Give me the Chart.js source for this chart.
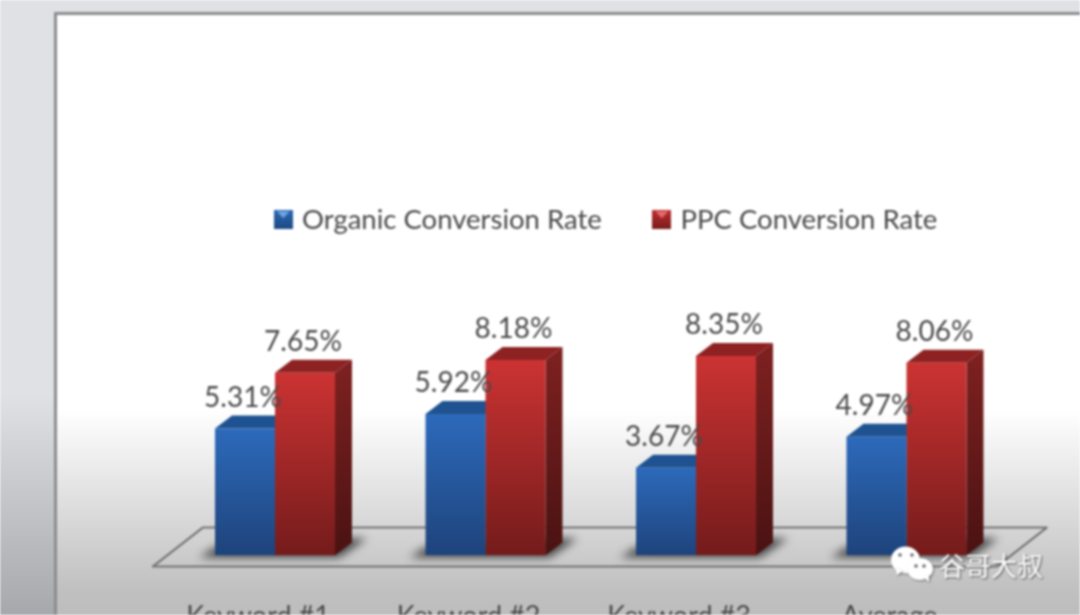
<!DOCTYPE html>
<html>
<head>
<meta charset="utf-8">
<style>
html, body { margin: 0; height: 100%; overflow: hidden; }
#wrap { position: absolute; left: 0; top: 0; width: 1080px; height: 615px; overflow: hidden;
  background: linear-gradient(#e0e1e5 0, #e0e1e5 395px, #a6a8ab 615px); filter: blur(0.8px); }
#panel { position: absolute; left: 54px; top: 12px; width: 1060px; height: 640px; border: 3px solid #8c8c8e;
  background: linear-gradient(#fff 0, #fff 395px, #c0c0c0 575px, #bdbdbd 603px); }
canvas { position: absolute; left: 0; top: 0; }
</style>
</head>
<body>
<div id="wrap">
  <div id="panel"></div>
  <canvas id="myChart" width="1080" height="684" style="width:1080px;height:684px"></canvas>
</div>
<script src="https://cdn.jsdelivr.net/npm/chart.js@4"></script>
<script>
const categories = ['Keyword #1', 'Keyword #2', 'Keyword #3', 'Average'];
const organicRates = [5.31, 5.92, 3.67, 4.97];
const ppcRates = [7.65, 8.18, 8.35, 8.06];
const seriesNames = ['Organic Conversion Rate', 'PPC Conversion Rate'];
const watermark = '谷哥大叔';

const textFont = 'Lato';
const textColor = '#4a4a4a';
const depthX = 17;
const depthY = 13;

// front face gradient, runs over the height of each bar
function barFill(top, bottom) {
    return function (c) {
        const y = c.chart.scales.y;
        if (c.raw === undefined || !y) return bottom;
        const y0 = y.getPixelForValue(c.raw);
        const y1 = y.getPixelForValue(0);
        // scale has no size yet on the first pass
        if (!isFinite(y0) || !isFinite(y1)) return bottom;
        const g = c.chart.ctx.createLinearGradient(0, y0, 0, y1);
        g.addColorStop(0, top);
        g.addColorStop(1, bottom);
        return g;
    };
}

function legendIcon(light, dark, tip) {
    const cv = document.createElement('canvas');
    cv.width = 19;
    cv.height = 19;
    const c = cv.getContext('2d');
    const g = c.createLinearGradient(0, 0, 0, 19);
    g.addColorStop(0, light);
    g.addColorStop(1, dark);
    c.fillStyle = g;
    c.fillRect(0, 0, 19, 19);
    c.fillStyle = tip;
    c.beginPath();
    c.moveTo(3, 1);
    c.lineTo(16, 1);
    c.lineTo(9.5, 8);
    c.fill();
    return cv;
}
const icons = [legendIcon('#2a66b0', '#1d4a85', '#6ea4e0'), legendIcon('#b92f2f', '#7a1c1c', '#ea6a6a')];

const floorAndSides = {
    id: 'floorAndSides',
    beforeDatasetsDraw(chart) {
        const ctx = chart.ctx;
        const a = chart.chartArea;
        const base = chart.scales.y.getPixelForValue(0);

        ctx.save();
        ctx.strokeStyle = '#737373';
        ctx.lineWidth = 2;
        ctx.lineJoin = 'round';
        ctx.beginPath();
        ctx.moveTo(a.left - 17, base + 11);
        ctx.lineTo(a.left + 33, base - 28);
        ctx.lineTo(a.right + 35, base - 28);
        ctx.lineTo(a.right - 15, base + 11);
        ctx.closePath();
        ctx.stroke();

        // soft shadow on the floor
        ctx.filter = 'blur(4px)';
        ctx.fillStyle = 'rgba(45,45,45,0.85)';
        const blue = chart.getDatasetMeta(0).data;
        const red = chart.getDatasetMeta(1).data;
        blue.forEach((b, i) => {
            const l = b.x - b.width / 2;
            const r = red[i].x + red[i].width / 2;
            ctx.beginPath();
            ctx.moveTo(l - 16, base + 2);
            ctx.lineTo(r + 4, base + 2);
            ctx.lineTo(r + 32, base - 17);
            ctx.lineTo(r + 10, base - 17);
            ctx.lineTo(l, base - 8);
            ctx.closePath();
            ctx.fill();
        });
        ctx.filter = 'none';

        const faces = [
            { top: '#1f5290', sideTop: '#1a4577', sideBottom: '#12305a' },
            { top: '#8e2222', sideTop: '#7c2020', sideBottom: '#4a1212' }
        ];
        [0, 1].forEach(d => {
            chart.getDatasetMeta(d).data.forEach(b => {
                const l = b.x - b.width / 2;
                const r = b.x + b.width / 2;
                const g = ctx.createLinearGradient(0, b.y, 0, b.base);
                g.addColorStop(0, faces[d].sideTop);
                g.addColorStop(1, faces[d].sideBottom);
                ctx.fillStyle = g;
                ctx.beginPath();
                ctx.moveTo(r, b.y);
                ctx.lineTo(r + depthX, b.y - depthY);
                ctx.lineTo(r + depthX, b.base - depthY);
                ctx.lineTo(r, b.base);
                ctx.closePath();
                ctx.fill();

                ctx.fillStyle = faces[d].top;
                ctx.beginPath();
                ctx.moveTo(l, b.y);
                ctx.lineTo(l + depthX, b.y - depthY);
                ctx.lineTo(r + depthX, b.y - depthY);
                ctx.lineTo(r, b.y);
                ctx.closePath();
                ctx.fill();
            });
        });
        ctx.restore();
    }
};

const valueLabels = {
    id: 'valueLabels',
    afterDatasetsDraw(chart) {
        const ctx = chart.ctx;
        ctx.save();
        ctx.font = '28px ' + textFont;
        ctx.fillStyle = textColor;
        ctx.textAlign = 'center';
        ctx.textBaseline = 'middle';
        [0, 1].forEach(d => {
            chart.getDatasetMeta(d).data.forEach((b, i) => {
                ctx.fillText(chart.data.datasets[d].data[i].toFixed(2) + '%', b.x - 2, b.y - 31);
            });
        });
        ctx.restore();
    }
};

const wechatMark = {
    id: 'wechatMark',
    afterDraw(chart) {
        const ctx = chart.ctx;
        ctx.save();
        ctx.shadowColor = 'rgba(60,60,60,0.6)';
        ctx.shadowBlur = 2;
        ctx.shadowOffsetX = 1;
        ctx.shadowOffsetY = 1;
        ctx.fillStyle = '#ffffff';
        ctx.beginPath();
        ctx.ellipse(905.5, 560, 14.5, 13.5, 0, 0, Math.PI * 2);
        ctx.fill();
        ctx.beginPath();
        ctx.moveTo(895, 568);
        ctx.lineTo(897, 575);
        ctx.lineTo(903, 571);
        ctx.fill();
        ctx.beginPath();
        ctx.ellipse(920, 569, 13, 11, 0, 0, Math.PI * 2);
        ctx.fill();
        ctx.beginPath();
        ctx.moveTo(923, 577);
        ctx.lineTo(929, 582);
        ctx.lineTo(929, 574);
        ctx.fill();
        ctx.shadowColor = 'transparent';
        ctx.fillStyle = '#6b6b6b';
        [[900, 555], [912, 555], [916, 566], [924, 566]].forEach(p => {
            ctx.beginPath();
            ctx.arc(p[0], p[1], 1.8, 0, Math.PI * 2);
            ctx.fill();
        });
        ctx.shadowColor = 'rgba(50,50,50,0.8)';
        ctx.font = '26px "Noto Sans CJK SC"';
        ctx.fillStyle = '#ffffff';
        ctx.textAlign = 'left';
        ctx.textBaseline = 'middle';
        ctx.fillText(watermark, 939, 566);
        ctx.restore();
    }
};

// legend sits a bit right of the plot centre in the picture
const legendShift = {
    id: 'legendShift',
    afterLayout(chart) {
        chart.legend.left += 17;
        chart.legend.right += 17;
    }
};

new Chart(document.getElementById('myChart'), {
    type: 'bar',
    data: {
        labels: categories,
        datasets: [{
            label: seriesNames[0],
            data: organicRates,
            backgroundColor: barFill('#2d6abb', '#1e437b')
        }, {
            label: seriesNames[1],
            data: ppcRates,
            backgroundColor: barFill('#cc3333', '#741b1b')
        }]
    },
    options: {
        responsive: false,
        animation: false,
        devicePixelRatio: 1,
        layout: { padding: { left: 169.75, right: 68.25, top: 151, bottom: 8 } },
        datasets: { bar: { categoryPercentage: 0.57, barPercentage: 1 } },
        scales: {
            x: {
                grid: { display: false, drawTicks: false },
                border: { display: false },
                ticks: { color: textColor, font: { family: textFont, size: 27 }, padding: 44, labelOffset: -17, maxRotation: 0, autoSkip: false }
            },
            y: { display: false, min: 0, max: 13.05 }
        },
        plugins: {
            tooltip: { enabled: false },
            legend: {
                position: 'top',
                labels: {
                    color: textColor,
                    font: { family: textFont, size: 27.5 },
                    padding: 55,
                    usePointStyle: true,
                    pointStyleWidth: 10,
                    generateLabels(chart) {
                        return Chart.defaults.plugins.legend.labels.generateLabels(chart).map((item, i) => {
                            item.pointStyle = icons[i];
                            return item;
                        });
                    }
                }
            }
        }
    },
    plugins: [floorAndSides, valueLabels, wechatMark, legendShift]
});
</script>
</body>
</html>
